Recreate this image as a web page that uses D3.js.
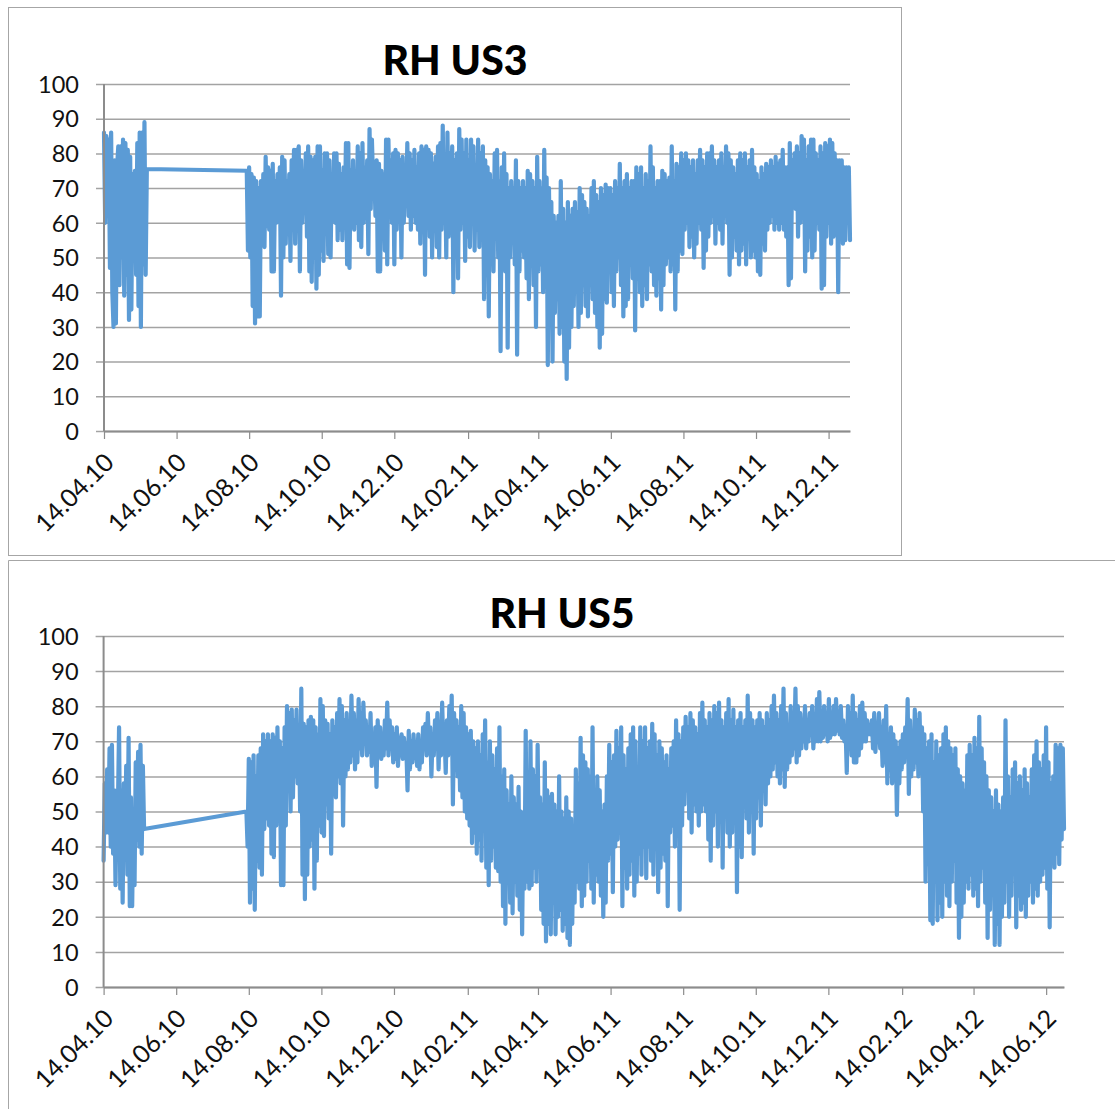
<!DOCTYPE html>
<html><head><meta charset="utf-8">
<script src="https://cdn.jsdelivr.net/npm/d3@7/dist/d3.min.js"></script>
<style>html,body{margin:0;padding:0;background:#fff;overflow:hidden}svg{display:block}</style>
</head><body><svg id="c" width="1115" height="1109"></svg>
<script>
const yTicks = [0,10,20,30,40,50,60,70,80,90,100];
const us3Ticks = ["2010-04-14","2010-06-14","2010-08-14","2010-10-14","2010-12-14","2011-02-14","2011-04-14","2011-06-14","2011-08-14","2011-10-14","2011-12-14"];
const us5Ticks = us3Ticks.concat(["2012-02-14","2012-04-14","2012-06-14"]);

// RH US3: first block, 14.04.10 to about 20.05.10
const us3First = [86,60,85,62,84,47,86,40,30,78,31,76,82,42,82,50,84,39,83,45,81,32,79,35,74,57,75,45,83,36,86,30,86,48,89,45,75.5];
// RH US3: second block, about 12.08.10 to 01.01.12
const us3Second = [
75,52,76,50,74,36,73,31,72,33,70,33,72,54,74,53,79,59,76,58,75,46,77,46,72,60,74,62,76,39,
79,50,78,54,72,60,74,49,78,62,81,54,81,58,82,46,78,60,74,64,80,56,82,46,79,43,78,50,79,41,
82,45,82,52,75,49,80,58,80,51,78,50,74,62,80,60,80,55,77,58,74,55,76,60,83,48,83,47,75,62,
78,58,74,60,82,55,80,53,83,60,76,62,78,51,87,64,84,72,76,62,78,46,77,46,75,58,74,52,84,48,
84,62,78,60,80,48,81,58,80,64,78,50,79,60,74,66,83,62,80,58,78,62,81,60,76,58,80,54,82,60,
81,45,82,60,81,56,80,50,77,62,79,53,82,50,83,58,88,60,76,50,86,56,80,62,82,40,78,56,80,44,
87,58,84,60,80,49,84,56,78,53,84,62,82,52,76,58,84,53,80,60,82,38,78,52,76,33,74,50,72,46,
80,56,81,50,72,23,76,48,80,46,74,24,70,50,72,56,70,48,78,22,72,46,70,52,72,50,70,44,75,38,
74,50,72,42,70,30,79,46,72,48,70,40,81,44,73,19,70,40,66,20,62,34,60,38,62,28,72,30,64,20,
60,15,66,24,62,30,64,36,66,40,63,30,70,34,68,42,66,36,64,33,62,42,70,38,72,34,68,30,66,24,
70,28,68,38,71,37,70,46,70,40,68,36,72,46,70,50,77,42,70,33,72,36,74,38,70,48,72,44,72,29,
76,44,74,40,76,36,70,42,74,38,72,48,82,46,76,42,70,39,72,44,72,35,75,42,74,48,72,50,73,46,
82,48,72,35,77,46,76,52,80,51,78,58,80,60,78,53,76,56,78,50,74,54,78,60,81,58,78,47,76,52,
80,56,80,60,82,62,78,54,76,60,78,58,80,54,76,62,82,60,80,45,78,50,76,56,74,52,78,48,80,52,
78,54,80,48,76,56,78,50,81,52,76,50,74,46,72,45,76,54,74,52,77,58,76,60,78,62,76,58,79,60,
77,58,78,60,81,58,76,56,76,42,83,44,78,66,80,64,82,56,80,60,85,62,84,46,78,52,82,56,84,50,
84,52,80,60,78,58,82,41,80,42,83,56,82,60,84,54,83,56,80,62,78,40,78,56,78,54,76,55,76,65,76,55
];

// RH US5: first block, 14.04.10 to about 18.05.10
const us5First = [36,58,44,62,44,68,40,69,38,56,29,52,50,74,28,56,24,58,40,63,32,71,23,54,23,50,29,64,42,67,40,69,38,63,45];
// RH US5: second block, about 12.08.10 to 29.06.12
const us5Second = [
50,40,65,24,64,28,66,22,60,36,66,34,68,32,72,45,70,48,72,46,70,38,72,37,71,46,74,50,70,29,
68,29,74,46,80,56,78,50,79,54,76,60,79,58,74,50,85,32,75,25,74,32,76,40,77,42,76,28,74,36,
72,46,82,44,80,43,76,52,75,48,72,38,76,56,74,54,78,60,82,58,80,46,76,60,78,62,75,64,83,66,
78,62,76,64,82,68,78,66,81,70,76,66,74,67,78,63,72,64,74,57,76,66,74,65,72,66,76,68,81,66,
76,68,74,64,72,65,74,63,71,66,72,65,71,66,68,56,73,62,70,64,72,66,68,63,72,62,70,64,74,68,
75,66,78,68,74,60,72,66,76,68,78,62,74,66,81,68,72,61,76,66,80,70,83,52,78,62,76,60,74,56,
80,54,78,50,74,48,72,46,73,41,70,44,68,38,70,42,66,36,72,46,76,34,64,29,70,36,66,40,62,34,
68,33,74,30,60,23,62,18,56,30,52,24,60,21,54,30,52,26,57,22,50,15,48,28,73,30,56,28,70,29,
62,34,60,30,69,36,54,22,52,18,64,13,56,18,54,15,55,24,52,15,50,20,60,22,50,16,48,18,54,14,
50,12,48,18,46,24,62,30,58,28,71,23,66,26,64,30,62,36,60,28,74,24,56,32,60,30,56,26,50,20,
52,24,60,36,69,38,64,27,66,40,73,42,68,44,74,23,66,34,62,28,68,32,72,36,74,26,70,30,62,38,
74,32,70,40,74,31,68,40,70,36,75,32,72,44,66,27,70,34,68,38,64,36,66,23,62,44,68,46,70,40,
76,44,72,22,70,46,74,52,77,56,74,48,78,44,76,52,74,50,72,46,78,50,81,52,76,50,74,42,78,36,
76,46,80,50,78,40,81,48,76,34,74,50,78,44,82,40,76,44,79,48,74,27,76,40,78,37,74,52,76,48,
83,44,78,50,76,38,74,48,76,54,78,46,76,60,74,52,78,58,76,60,80,62,83,64,78,60,76,58,80,62,
85,57,78,62,74,64,80,66,76,68,85,64,80,66,78,68,76,70,80,68,76,70,78,72,80,68,76,70,82,70,
84,70,78,71,80,72,76,70,82,71,78,72,80,72,82,73,78,72,80,71,76,70,74,61,80,68,78,66,83,64,
78,64,76,66,80,68,81,70,78,70,76,72,74,72,76,68,78,67,74,70,78,68,74,63,76,64,80,58,72,62,
74,58,72,60,70,49,68,58,70,62,72,64,74,66,82,55,76,60,72,62,79,64,76,60,78,62,74,50,72,30,
68,35,70,19,72,18,64,30,70,19,66,24,68,20,72,30,74,26,70,23,68,30,66,36,68,24,62,14,60,20,
58,24,56,30,66,28,69,32,66,26,71,28,68,23,77,30,68,34,64,24,60,14,56,22,54,28,50,12,56,18,
52,12,50,20,54,24,76,30,60,20,54,26,62,34,64,17,58,26,60,22,56,24,62,20,58,26,54,30,62,24,
66,28,70,26,64,30,62,32,66,34,74,28,64,17,58,36,60,34,69,38,68,35,69,42,68,45
];

const svg = d3.select("#c");
const FONT = "Lato, 'Noto Sans', sans-serif";
const parse = d3.utcParse("%Y-%m-%d");
const fmt = d3.utcFormat("%d.%m.%y");

function block(values, from, to){
  const t = d3.scaleLinear().domain([0, values.length-1]).range([+parse(from), +parse(to)]);
  return values.map((v,i)=>({date:new Date(t(i)), rh:v}));
}

function chart(o){
  const x = d3.scaleUtc().domain([parse("2010-04-14"), parse(o.end)]).range([o.left, o.right]);
  const y = d3.scaleLinear().domain([0,100]).range([o.bottom, o.top]);
  const g = svg.append("g");

  const ya = g.append("g").attr("transform",`translate(${o.left},0)`)
    .call(d3.axisLeft(y).tickValues(yTicks).tickSize(0).tickPadding(25));
  ya.select(".domain").remove();
  ya.selectAll(".tick line").remove();
  ya.selectAll(".tick").append("line")
    .attr("x1",-8).attr("x2",o.right-o.left)
    .attr("stroke","#a3a3a3").attr("stroke-width",1.5);
  ya.selectAll("text").attr("x",-25).attr("dy","0.35em")
    .attr("font-family",FONT).attr("font-size",23.5).attr("fill","#111");

  const pts = o.blocks.flatMap(b=>block(b.values,b.from,b.to));
  g.append("path").datum(pts)
    .attr("d",d3.line().x(d=>x(d.date)).y(d=>y(d.rh)))
    .attr("fill","none").attr("stroke","#5b9bd5").attr("stroke-width",4.2)
    .attr("stroke-linejoin","round").attr("stroke-linecap","round");

  const xa = g.append("g").attr("transform",`translate(0,${o.bottom})`)
    .call(d3.axisBottom(x).tickValues(o.ticks.map(parse)).tickFormat(fmt).tickSize(8).tickSizeOuter(0));
  xa.select(".domain").attr("stroke","#8c8c8c").attr("stroke-width",2);
  xa.selectAll(".tick line").attr("stroke","#8c8c8c").attr("stroke-width",1.2);
  xa.selectAll("text")
    .attr("font-family",FONT).attr("font-size",25).attr("fill","#111")
    .attr("text-anchor","end").attr("dy",0).attr("y",0)
    .attr("transform","translate(11,33) rotate(-45)");

  g.append("line").attr("x1",o.left).attr("x2",o.left).attr("y1",o.top).attr("y2",o.bottom)
    .attr("stroke","#8c8c8c").attr("stroke-width",2);

  g.append("text").attr("x",o.titleX).attr("y",o.titleY).attr("text-anchor","middle")
    .attr("font-family",FONT).attr("font-weight",900).attr("font-size",41).attr("fill","#000")
    .text(o.title);
}

svg.append("rect").attr("x",8.5).attr("y",7.5).attr("width",893).attr("height",548)
  .attr("fill","none").attr("stroke","#a6a6a6").attr("stroke-width",1);
svg.append("path").attr("d","M8.5,1109V560.5H1115")
  .attr("fill","none").attr("stroke","#a6a6a6").attr("stroke-width",1);

chart({title:"RH US3",titleX:455,titleY:74.5,left:104,right:850,top:84,bottom:431,end:"2012-01-01",
  ticks:us3Ticks,
  blocks:[{values:us3First,from:"2010-04-14",to:"2010-05-20"},{values:us3Second,from:"2010-08-12",to:"2012-01-01"}]});
chart({title:"RH US5",titleX:562,titleY:628,left:103.6,right:1064,top:636,bottom:987,end:"2012-06-29",
  ticks:us5Ticks,
  blocks:[{values:us5First,from:"2010-04-14",to:"2010-05-18"},{values:us5Second,from:"2010-08-12",to:"2012-06-29"}]});
</script></body></html>
